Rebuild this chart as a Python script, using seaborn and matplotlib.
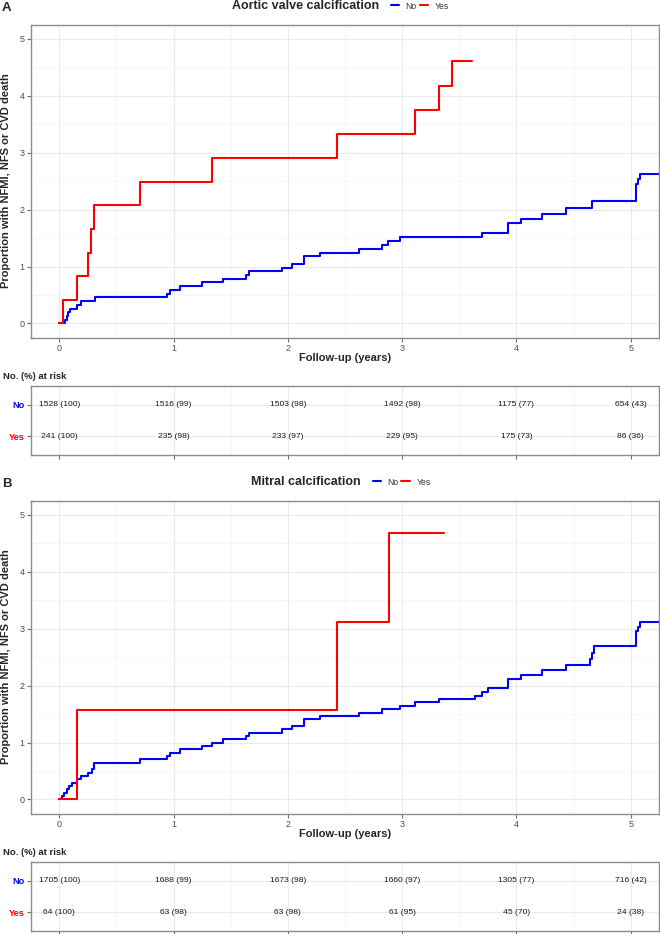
import numpy as np
import pandas as pd
import matplotlib
matplotlib.use("Agg")
import matplotlib.pyplot as plt
import seaborn as sns
from matplotlib.lines import Line2D
from matplotlib.ticker import MultipleLocator, FixedLocator

# ---------------- data ----------------
groups = ["No", "Yes"]
group_colors = {"No": "#0000FF", "Yes": "#FF0000"}
risk_times = [0, 1, 2, 3, 4, 5]

# Panel A : aortic valve calcification (cumulative %, step curves)
a_title = "Aortic valve calcification"
a_no_t = [0, 0.053, 0.066, 0.080, 0.095, 0.158, 0.190, 0.312, 0.940, 0.970, 1.057,
          1.247, 1.430, 1.635, 1.664, 1.947, 2.035, 2.137, 2.277, 2.620, 2.825,
          2.880, 2.980, 3.700, 3.930, 4.040, 4.220, 4.430, 4.660, 5.050, 5.065,
          5.080, 5.300]
a_no_y = [0, 0.065, 0.131, 0.196, 0.262, 0.327, 0.393, 0.458, 0.524, 0.590, 0.655,
          0.720, 0.785, 0.850, 0.916, 0.980, 1.047, 1.178, 1.243, 1.309, 1.374,
          1.440, 1.510, 1.585, 1.760, 1.840, 1.930, 2.030, 2.150, 2.450, 2.530,
          2.620, 2.620]
a_yes_t = [0, 0.030, 0.152, 0.250, 0.277, 0.300, 0.707, 1.334, 2.428, 3.110, 3.320,
           3.435, 3.613]
a_yes_y = [0, 0.415, 0.830, 1.245, 1.660, 2.075, 2.490, 2.905, 3.320, 3.745, 4.170,
           4.605, 4.605]
a_risk_no = ["1528 (100)", "1516 (99)", "1503 (98)", "1492 (98)", "1175 (77)", "654 (43)"]
a_risk_yes = ["241 (100)", "235 (98)", "233 (97)", "229 (95)", "175 (73)", "86 (36)"]

# Panel B : mitral calcification
b_title = "Mitral calcification"
b_no_t = [0, 0.020, 0.040, 0.064, 0.085, 0.108, 0.158, 0.193, 0.254, 0.283, 0.307,
          0.707, 0.946, 0.969, 1.057, 1.247, 1.334, 1.430, 1.635, 1.664, 1.947,
          2.035, 2.137, 2.277, 2.620, 2.825, 2.980, 3.110, 3.320, 3.640, 3.700,
          3.750, 3.930, 4.040, 4.220, 4.430, 4.644, 4.658, 4.679, 5.050, 5.065,
          5.079, 5.300]
b_no_y = [0, 0.059, 0.117, 0.176, 0.235, 0.293, 0.352, 0.410, 0.469, 0.528, 0.645,
          0.704, 0.762, 0.821, 0.880, 0.938, 0.997, 1.056, 1.114, 1.173, 1.232,
          1.290, 1.408, 1.466, 1.525, 1.584, 1.650, 1.714, 1.760, 1.820, 1.890,
          1.966, 2.110, 2.190, 2.265, 2.365, 2.460, 2.576, 2.694, 2.958, 3.030,
          3.110, 3.110]
b_yes_t = [0, 0.155, 2.428, 2.883, 3.370]
b_yes_y = [0, 1.5625, 3.125, 4.6875, 4.6875]
b_risk_no = ["1705 (100)", "1688 (99)", "1673 (98)", "1660 (97)", "1305 (77)", "716 (42)"]
b_risk_yes = ["64 (100)", "63 (98)", "63 (98)", "61 (95)", "45 (70)", "24 (38)"]

ylabel = "Proportion with NFMI, NFS or CVD death"
xlabel = "Follow-up (years)"
risk_label = "No. (%) at risk"

# ---------------- style ----------------
sns.set_theme(style="white")
plt.rcParams["font.family"] = ["Liberation Sans", "DejaVu Sans"]

W, H = 660, 934
fig = plt.figure(figsize=(W / 100, H / 100), dpi=100)
fig.patch.set_facecolor("white")


def fx(x):
    return x / W


def fy(y):
    return 1 - y / H


BORDER = "#8C8C8C"
GRID_MAJ = "#EBEBEB"
GRID_MIN = "#F4F4F4"
TICKC = "#6E6E6E"
TICKLAB = "#4D4D4D"


def style_axes(ax):
    for s in ax.spines.values():
        s.set_color(BORDER)
        s.set_linewidth(1.0)
    ax.set_facecolor("white")
    ax.set_axisbelow(True)


def draw_panel(dy, tag, title, title_right, no_t, no_y, yes_t, yes_y, risk_no, risk_yes):
    L, R = 30.7, 659.3
    ax = fig.add_axes([fx(L), fy(337.7 + dy), (R - L) / W, 313.2 / H])
    df = pd.concat([
        pd.DataFrame({"time": no_t, "pct": no_y, "group": "No"}),
        pd.DataFrame({"time": yes_t, "pct": yes_y, "group": "Yes"}),
    ], ignore_index=True)
    sns.lineplot(data=df, x="time", y="pct", hue="group", palette=group_colors,
                 hue_order=groups, estimator=None, sort=False, legend=False,
                 drawstyle="steps-post", linewidth=1.5, ax=ax)
    ax.set_xlim(-0.25, 5.25)
    ax.set_ylim(-0.25, 5.25)
    ax.xaxis.set_major_locator(MultipleLocator(1))
    ax.xaxis.set_minor_locator(MultipleLocator(0.5))
    ax.yaxis.set_major_locator(MultipleLocator(1))
    ax.yaxis.set_minor_locator(MultipleLocator(0.5))
    ax.grid(which="major", color=GRID_MAJ, linewidth=0.8)
    ax.grid(which="minor", color=GRID_MIN, linewidth=0.5)
    ax.set_xlabel("")
    ax.set_ylabel("")
    style_axes(ax)
    ax.tick_params(which="major", bottom=True, left=True, length=3.0, width=0.8,
                   color=TICKC, labelsize=6.5, labelcolor=TICKLAB, pad=1.5)
    ax.tick_params(which="minor", length=0)

    # risk table
    tab = fig.add_axes([fx(L), fy(455.3 + dy), (R - L) / W, 69.6 / H])
    tab.set_xlim(-0.25, 5.25)
    tab.set_ylim(0.4, 2.6)
    tab.xaxis.set_major_locator(FixedLocator(risk_times))
    tab.xaxis.set_minor_locator(MultipleLocator(0.5))
    tab.set_yticks([1, 2])
    tab.set_yticklabels(["Yes", "No"])
    tab.set_xticklabels([""] * len(risk_times))
    for lab, g in zip(tab.get_yticklabels(), ["Yes", "No"]):
        lab.set_color(group_colors[g])
        lab.set_fontweight("bold")
    tab.grid(which="major", color=GRID_MAJ, linewidth=0.8)
    tab.grid(which="minor", axis="x", color=GRID_MIN, linewidth=0.5)
    style_axes(tab)
    tab.tick_params(which="major", bottom=True, left=True, length=3.0, width=0.8,
                    color=TICKC, labelsize=6.6, pad=1.3)
    tab.tick_params(which="minor", length=0)
    for t, s in zip(risk_times, risk_no):
        tab.text(t, 2, s, ha="center", va="center", fontsize=6.1, color="#1A1A1A")
    for t, s in zip(risk_times, risk_yes):
        tab.text(t, 1, s, ha="center", va="center", fontsize=6.1, color="#1A1A1A")

    # texts
    fig.text(fx(1.7), fy(11 + dy), tag, ha="left", va="baseline",
             fontsize=9.5, fontweight="bold")
    fig.text(fx(title_right), fy(9.3 + dy), title, ha="right", va="baseline",
             fontsize=9, fontweight="bold")
    ly = fy(5.2 + dy)
    fig.add_artist(Line2D([fx(title_right + 11.5), fx(title_right + 19.5)], [ly, ly],
                          color=group_colors["No"], linewidth=1.5))
    fig.text(fx(title_right + 26.5), fy(8.6 + dy), "No", ha="left", va="baseline",
             fontsize=6.2, color="#333333")
    fig.add_artist(Line2D([fx(title_right + 40.5), fx(title_right + 48.5)], [ly, ly],
                          color=group_colors["Yes"], linewidth=1.5))
    fig.text(fx(title_right + 56), fy(8.6 + dy), "Yes", ha="left", va="baseline",
             fontsize=6.2, color="#333333")

    fig.text(fx(6), fy(181 + dy), ylabel, rotation=90, ha="center", va="center",
             fontsize=8, fontweight="bold")
    fig.text(fx(345), fy(361 + dy), xlabel, ha="center", va="baseline",
             fontsize=8, fontweight="bold")
    fig.text(fx(2.7), fy(379 + dy), risk_label, ha="left", va="baseline",
             fontsize=6.8, fontweight="bold")


draw_panel(0, "A", a_title, 379, a_no_t, a_no_y, a_yes_t, a_yes_y, a_risk_no, a_risk_yes)
draw_panel(476, "B", b_title, 361, b_no_t, b_no_y, b_yes_t, b_yes_y, b_risk_no, b_risk_yes)

fig.savefig("out.png", dpi=100, facecolor="white")
